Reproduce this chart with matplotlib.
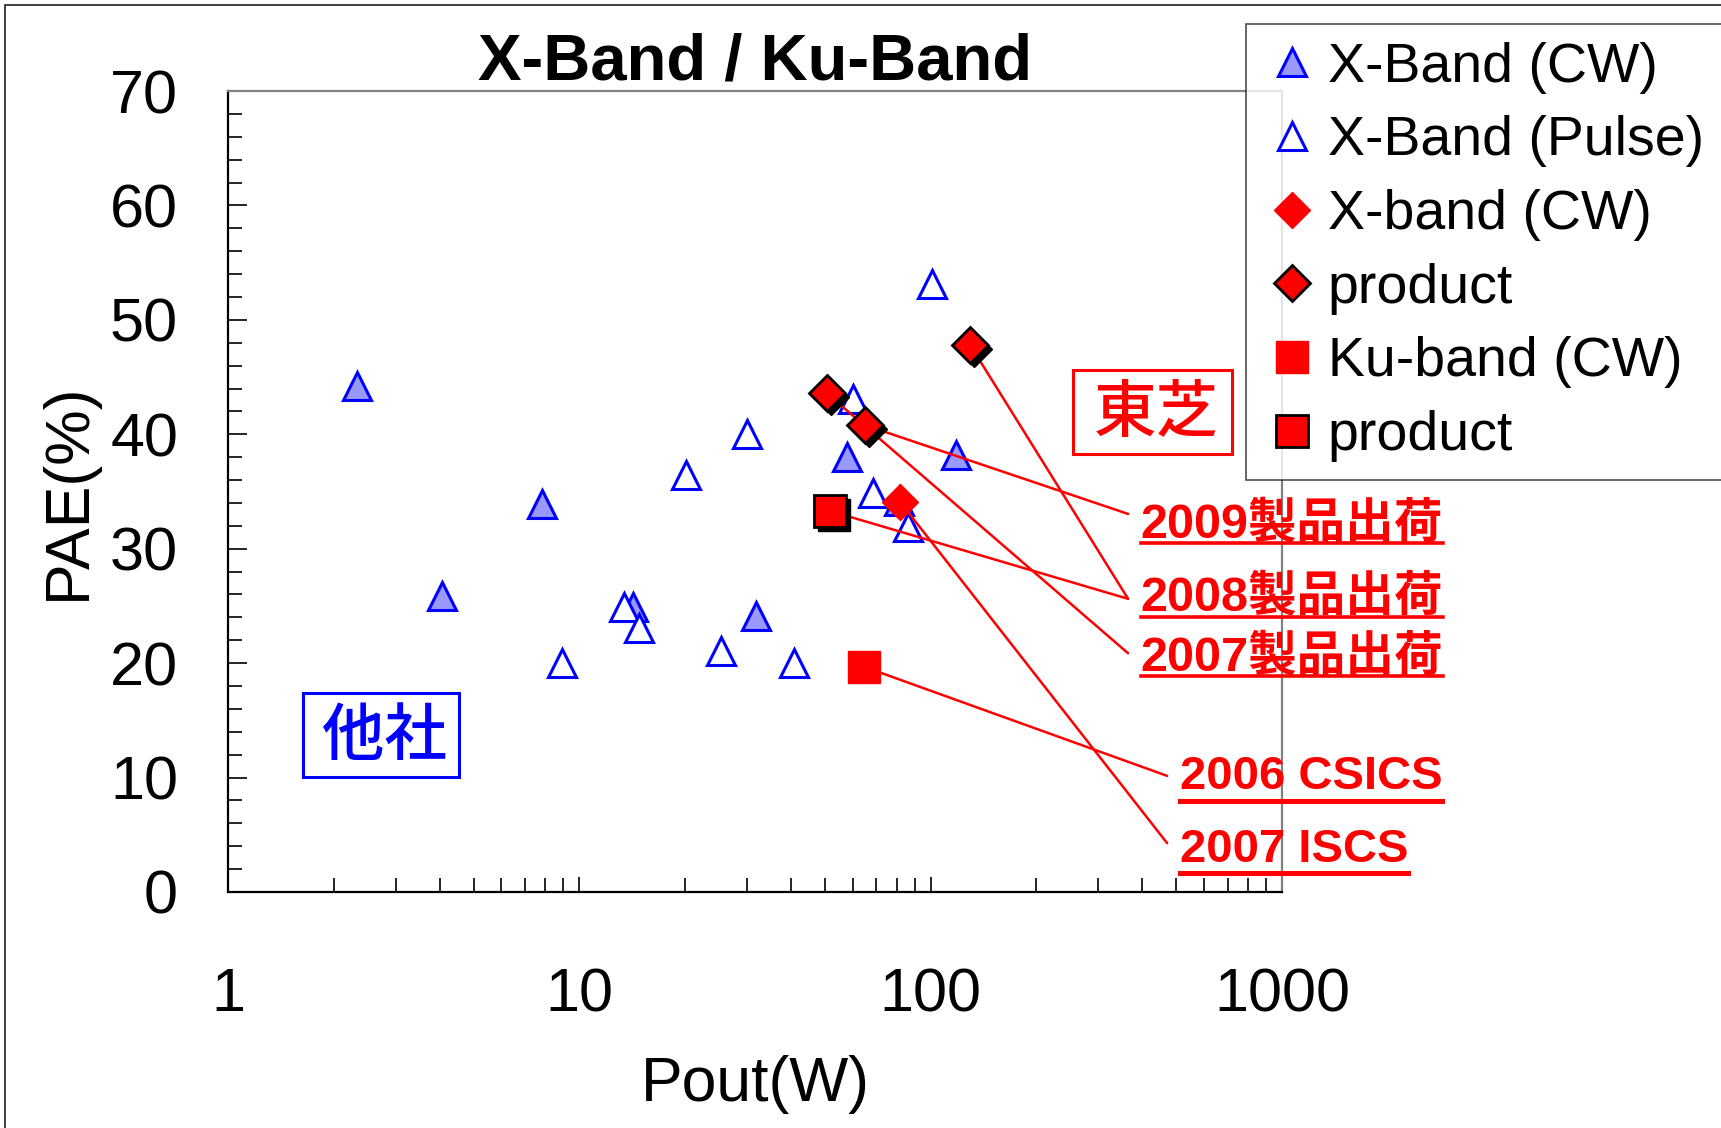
import matplotlib
matplotlib.use("Agg")
import matplotlib.pyplot as plt
from matplotlib.lines import Line2D
from matplotlib.patches import Rectangle
from matplotlib.transforms import offset_copy, IdentityTransform

plt.rcParams['font.family'] = ['Liberation Sans', 'Noto Sans CJK JP', 'DejaVu Sans']

# other makers, X-band
xcw_pout = [2.33, 4.07, 7.83, 14.2, 31.8, 57.7, 81.5, 117.7]
xcw_pae = [44.2, 25.9, 33.9, 24.9, 24.1, 38.0, 34.2, 38.2]
xpulse_pout = [8.95, 13.4, 14.8, 20.1, 25.3, 30.1, 40.7, 60.0, 68.7, 86.4, 100.7]
xpulse_pae = [20.0, 24.9, 23.1, 36.4, 21.1, 40.0, 20.0, 43.1, 34.9, 31.9, 53.1]

# Toshiba
tx_cw_pout = [81.8]
tx_cw_pae = [34.1]
tx_prod_pout = [50.6, 65.0, 129.5]
tx_prod_pae = [43.6, 40.8, 47.8]
ku_cw_pout = [64.4]
ku_cw_pae = [19.7]
ku_prod_pout = [51.7]
ku_prod_pae = [33.3]

legend_labels = ['X-Band (CW)', 'X-Band (Pulse)', 'X-band (CW)', 'product', 'Ku-band (CW)', 'product']

# annotation labels and the points they point at
note_labels = ['2009製品出荷', '2008製品出荷', '2007製品出荷', '2006 CSICS', '2007 ISCS']
note_points = [
    [(65.0, 40.8)],
    [(129.5, 47.8), (51.7, 33.3)],
    [(50.6, 43.6)],
    [(64.4, 19.7)],
    [(81.8, 34.1)],
]
note_ends = [(0.854, 0.472), (0.854, 0.366), (0.854, 0.298), (0.891, 0.145), (0.891, 0.061)]
note_text_pos = [(0.866, 0.443), (0.866, 0.351), (0.866, 0.276), (0.903, 0.128), (0.903, 0.037)]
note_uline_y = [0.436, 0.343, 0.270, 0.114, 0.024]
note_size = [35, 35, 35, 34, 34]
note_ulw = [2.6, 2.6, 2.6, 3.6, 3.6]

fig = plt.figure(figsize=(17.21, 11.28), dpi=100)
ax = fig.add_axes([228 / 1721, 1 - 892 / 1128, 1054 / 1721, 801 / 1128])

blue = '#0000ff'
red = '#ff0000'

cw_style = dict(marker='^', ms=20, mfc='#9999ff', mec=blue, mew=2.2, ls='none')
pulse_style = dict(marker='^', ms=20, mfc='white', mec=blue, mew=2.2, ls='none')
dcw_style = dict(marker='D', ms=18, mfc=red, mec=red, mew=1, ls='none')
dprod_style = dict(marker='D', ms=18, mfc=red, mec='black', mew=2, ls='none')
scw_style = dict(marker='s', ms=23, mfc=red, mec=red, mew=1, ls='none')
sprod_style = dict(marker='s', ms=23, mfc=red, mec='black', mew=2, ls='none')

ax.plot(xcw_pout, xcw_pae, zorder=2, **cw_style)
ax.plot(xpulse_pout, xpulse_pae, zorder=2, **pulse_style)

# lines to notes
for pts, end in zip(note_points, note_ends):
    for p in pts:
        ax.annotate('', xy=p, xycoords='data', xytext=end, textcoords='axes fraction',
                    arrowprops=dict(arrowstyle='-', color=red, lw=1.8, shrinkA=0, shrinkB=0),
                    zorder=3)

# shadows for product markers
shadow = offset_copy(ax.transData, fig=fig, x=4, y=-4, units='dots')
ax.plot(tx_prod_pout, tx_prod_pae, transform=shadow, marker='D', ms=18, mfc='black',
        mec='black', ls='none', zorder=4)
ax.plot(ku_prod_pout, ku_prod_pae, transform=shadow, marker='s', ms=23, mfc='black',
        mec='black', ls='none', zorder=4)

ax.plot(tx_cw_pout, tx_cw_pae, zorder=5, **dcw_style)
ax.plot(tx_prod_pout, tx_prod_pae, zorder=5, **dprod_style)
ax.plot(ku_cw_pout, ku_cw_pae, zorder=5, **scw_style)
ax.plot(ku_prod_pout, ku_prod_pae, zorder=5, **sprod_style)

ax.set_xscale('log')
ax.set_xlim(1, 1000)
ax.set_ylim(0, 70)
ax.set_yticks(range(0, 71, 10))
ax.set_yticks(range(0, 71, 2), minor=True)
ax.tick_params(axis='both', which='both', direction='in', labelsize=44, color='black')
ax.tick_params(axis='y', which='major', length=14, width=1.2, pad=36)
ax.tick_params(axis='y', which='minor', length=10, width=1.2)
ax.tick_params(axis='x', which='major', length=11, width=1.2, pad=54)
ax.tick_params(axis='x', which='minor', length=10, width=1.2, labelbottom=False)
ax.set_xticks([1, 10, 100, 1000])
ax.set_xticklabels(['1', '10', '100', '1000'])

for s in ['left', 'bottom']:
    ax.spines[s].set_color('black')
    ax.spines[s].set_linewidth(1.6)
for s in ['top', 'right']:
    ax.spines[s].set_color('#808080')
    ax.spines[s].set_linewidth(1.6)

ax.set_title('X-Band / Ku-Band', fontsize=47, fontweight='bold', pad=8)
ax.set_xlabel('Pout(W)', fontsize=45)
ax.xaxis.label.set_va('baseline')
ax.xaxis.set_label_coords(0.5, (892 - 1101) / 801)
ax.set_ylabel('PAE(%)', fontsize=45)
ax.yaxis.label.set_va('center')
ax.yaxis.set_label_coords((68 - 228) / 1054, 0.5)

# 他社 / 東芝 boxes
ax.add_patch(Rectangle((0.0709, 0.1432), 0.1485, 0.1049, transform=ax.transAxes,
                       fill=False, ec=blue, lw=2.2, zorder=6))
ax.text(0.1489, 0.1935, '他社', transform=ax.transAxes, ha='center', va='center',
        fontsize=45, fontweight='medium', color=blue, family=['Noto Sans CJK JP'], zorder=6)
ax.add_patch(Rectangle((0.8017, 0.5468), 0.1509, 0.1049, transform=ax.transAxes,
                       fill=False, ec=red, lw=2.2, zorder=6, clip_on=False))
ax.text(0.8805, 0.596, '東芝', transform=ax.transAxes, ha='center', va='center',
        fontsize=45, fontweight='medium', color=red, family=['Noto Sans CJK JP'], zorder=6)

note_texts = []
for lab, pos, fs in zip(note_labels, note_text_pos, note_size):
    t = ax.text(pos[0], pos[1], lab, transform=ax.transAxes, ha='left', va='baseline',
                fontsize=fs, fontweight='bold', color=red, zorder=7,
                family=['Liberation Sans', 'Noto Sans CJK JP'])
    note_texts.append(t)

# legend
handles = [Line2D([], [], **cw_style), Line2D([], [], **pulse_style),
           Line2D([], [], **dcw_style), Line2D([], [], **dprod_style),
           Line2D([], [], **scw_style), Line2D([], [], **sprod_style)]
leg = fig.legend(handles, legend_labels, loc='upper left',
                 bbox_to_anchor=(1246 / 1721, 1 - 24 / 1128), fontsize=40,
                 frameon=True, fancybox=False, borderpad=0.32, handlelength=1.0,
                 handletextpad=0.15, labelspacing=0.39, borderaxespad=0)
leg.get_frame().set_edgecolor('#202020')
leg.get_frame().set_linewidth(1.2)

# outer frame
fig.add_artist(Rectangle((5 / 1721, -0.1), 1.2, 1.1 - 5 / 1128, transform=fig.transFigure,
                         fill=False, ec='#202020', lw=1.2))

# underlines under the note labels
fig.canvas.draw()
r = fig.canvas.get_renderer()
for t, uy, lw in zip(note_texts, note_uline_y, note_ulw):
    bb = t.get_window_extent(r)
    y = ax.transAxes.transform((0, uy))[1]
    fig.add_artist(Line2D([bb.x0, bb.x1], [y, y], transform=IdentityTransform(),
                          color=red, lw=lw, zorder=8))

fig.savefig('out.png', dpi=100)
